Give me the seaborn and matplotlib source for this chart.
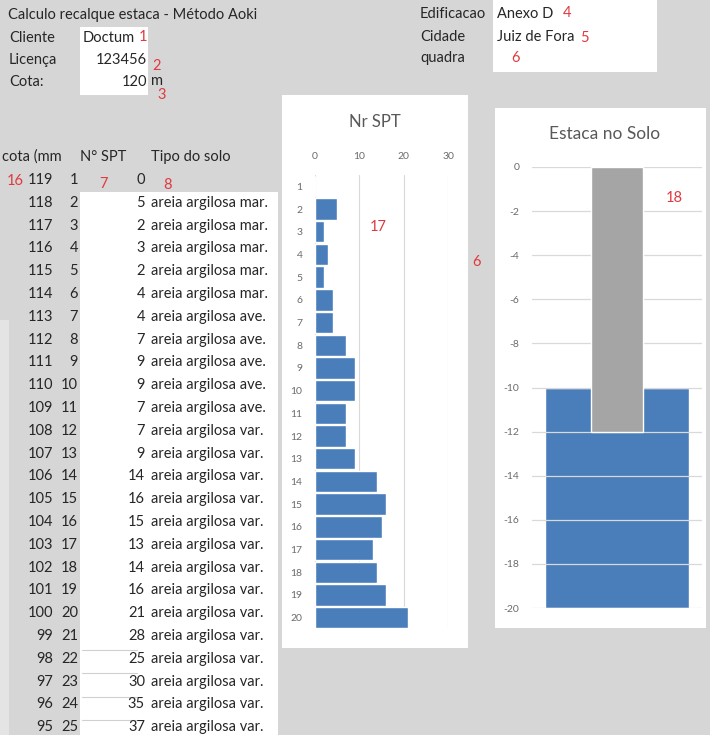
import matplotlib
matplotlib.use('Agg')
import matplotlib.pyplot as plt
import seaborn as sns
import pandas as pd
from matplotlib.patches import Rectangle

# ---------------- data ----------------
cota = [119, 118, 117, 116, 115, 114, 113, 112, 111, 110, 109, 108, 107,
        106, 105, 104, 103, 102, 101, 100, 99, 98, 97, 96, 95]
num_spt = list(range(1, 26))
spt = [0, 5, 2, 3, 2, 4, 4, 7, 9, 9, 7, 7, 9, 14, 16, 15, 13, 14, 16, 21,
       28, 25, 30, 35, 37]
tipo_solo = [''] + ['areia argilosa mar.'] * 5 + ['areia argilosa ave.'] * 5 + \
            ['areia argilosa var.'] * 14

chart_cats = [str(i) for i in range(1, 21)]
chart_spt = spt[:20]
spt_ticks = [0, 10, 20, 30]
prof_ticks = [0, -2, -4, -6, -8, -10, -12, -14, -16, -18, -20]
estaca_comprimento = 12
solo_topo = -10
solo_base = -20

header_info = {'Cliente': 'Doctum', 'Licença': '123456', 'Cota:': '120'}

# ---------------- style ----------------
W, H = 710, 735
sns.set_theme(style='white')
plt.rcParams['font.family'] = ['Lato', 'DejaVu Sans']

TXT = '#262626'
RED = '#e0393e'
GRAYTXT = '#6b6b6b'
BLUE = '#4a7ebb'

fig = plt.figure(figsize=(7.1, 7.35), dpi=100, facecolor='#d6d6d6')

bg = fig.add_axes([0, 0, 1, 1], zorder=0)
bg.set_xlim(0, W)
bg.set_ylim(H, 0)
bg.axis('off')


def rect(x0, y0, x1, y1, color='white'):
    bg.add_patch(Rectangle((x0, y0), x1 - x0, y1 - y0, facecolor=color,
                           edgecolor='none', zorder=0))


# white blocks
rect(0, 320, 9, 735, '#e4e4e4')
rect(80, 27, 148, 95)
rect(493, 0, 657, 72)
rect(80, 192, 278, 735)
rect(282, 95, 468, 648)
rect(495, 108, 706, 628)
for yl in [650, 673, 697, 720]:
    bg.plot([82, 137], [yl, yl], color='#d0d0d0', lw=0.8, zorder=1)

FS = 10.5
t = dict(color=TXT, fontsize=FS, va='center', zorder=2)
bg.text(8, 15, 'Calculo recalque estaca - Método Aoki', **t)
bg.text(9, 38, 'Cliente', **t)
bg.text(83, 38, header_info['Cliente'], **t)
bg.text(9, 60, 'Licença', **t)
bg.text(147, 60, header_info['Licença'], ha='right', **t)
bg.text(9, 82, 'Cota:', **t)
bg.text(147, 82, header_info['Cota:'], ha='right', **t)
bg.text(151, 81, 'm', **t)

bg.text(420, 14, 'Edificacao', **t)
bg.text(497, 14, 'Anexo D', **t)
bg.text(420, 37, 'Cidade', **t)
bg.text(497, 37, 'Juiz de Fora', **t)
bg.text(420, 58, 'quadra', **t)

# table
bg.text(2, 157, 'cota (mm', **t)
bg.text(80, 157, 'N° SPT', **t)
bg.text(151, 157, 'Tipo do solo', **t)
for i in range(len(cota)):
    y = 180 + 22.8 * i
    bg.text(53, y, str(cota[i]), ha='right', **t)
    bg.text(78, y, str(num_spt[i]), ha='right', **t)
    bg.text(145, y, str(spt[i]), ha='right', **t)
    if tipo_solo[i]:
        bg.text(151, y, tipo_solo[i], **t)

# red annotations
r = dict(color=RED, fontsize=10.5, va='center', zorder=3)
for s, x, y in [('1', 139, 37), ('2', 152, 66), ('3', 157, 95),
                ('4', 563, 13), ('5', 580, 38), ('6', 511, 58),
                ('16', 7, 181), ('7', 99, 184), ('8', 163, 185)]:
    bg.text(x, y, s, **r)


def ax_at(x0, y0, x1, y1):
    return fig.add_axes([x0 / W, 1 - y1 / H, (x1 - x0) / W, (y1 - y0) / H],
                        zorder=1)


# ---------------- chart 1: Nr SPT ----------------
ax1 = ax_at(315, 175, 448, 629)
df1 = pd.DataFrame({'n': chart_cats, 'spt': chart_spt})
sns.barplot(data=df1, y='n', x='spt', orient='h', color=BLUE, saturation=1,
            width=0.94, ax=ax1, zorder=2)
ax1.set_facecolor('none')
ax1.set_xlim(0, 30)
ax1.set_xticks(spt_ticks)
ax1.xaxis.tick_top()
ax1.xaxis.grid(True, color='#d9d9d9', lw=0.8)
ax1.set_axisbelow(True)
ax1.set_xlabel('')
ax1.set_ylabel('')
for sp in ax1.spines.values():
    sp.set_visible(False)
ax1.tick_params(axis='x', labelsize=7.5, colors=GRAYTXT, length=0, pad=10)
ax1.tick_params(axis='y', labelsize=7.5, colors=GRAYTXT, length=0, pad=9)
fig.text(375 / W, 1 - 122 / H, 'Nr SPT', fontsize=12, color='#595959',
         ha='center', va='center')

# ---------------- chart 2: Estaca no Solo ----------------
ax2 = ax_at(532, 167, 702, 608)
sns.barplot(x=['Estaca'], y=[-estaca_comprimento], color='#a5a5a5',
            saturation=1, width=0.31, ax=ax2, zorder=3)
ax2.bar(0, solo_base - solo_topo, bottom=solo_topo, width=0.85, color=BLUE,
        zorder=1)
ax2.set_facecolor('none')
ax2.set_xlim(-0.5, 0.5)
ax2.set_ylim(-20, 0)
ax2.set_yticks(prof_ticks)
ax2.set_yticklabels([str(v) for v in prof_ticks])
ax2.set_xticks([])
ax2.yaxis.grid(True, color='#d9d9d9', lw=0.9)
ax2.set_axisbelow(False)
ax2.set_xlabel('')
ax2.set_ylabel('')
for sp in ax2.spines.values():
    sp.set_visible(False)
ax2.tick_params(axis='y', labelsize=7.5, colors=GRAYTXT, length=0, pad=9)
fig.text(605 / W, 1 - 134 / H, 'Estaca no Solo', fontsize=12.5,
         color='#595959', ha='center', va='center')

# overlay red notes on charts
for s, x, y in [('17', 370, 227), ('6', 472, 262), ('18', 666, 198)]:
    fig.text(x / W, 1 - y / H, s, color=RED, fontsize=10.5, va='center')

fig.savefig('out.png', dpi=100, facecolor=fig.get_facecolor())
